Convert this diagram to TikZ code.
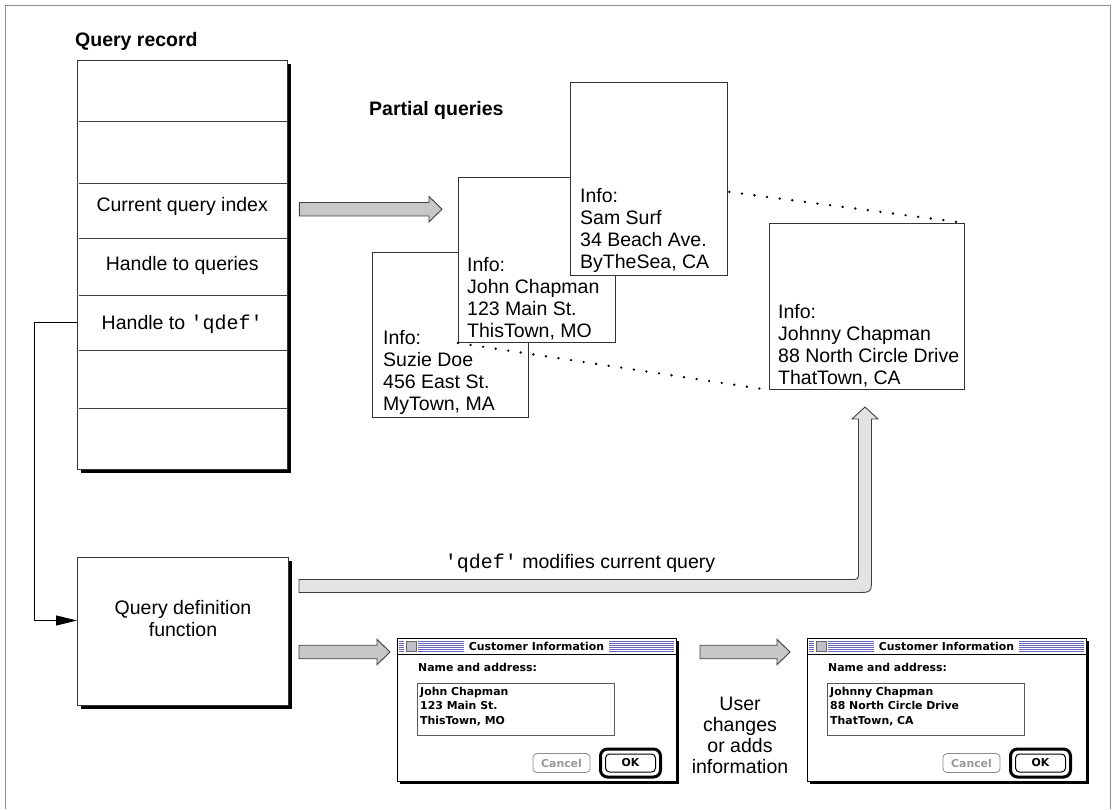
\documentclass[tikz,border=0pt]{standalone}
\usepackage{fontspec}
\setmainfont{Liberation Sans}
\setmonofont{Liberation Mono}
\newfontfamily\dlgfont{DejaVu Sans}
\usetikzlibrary{calc,shadows,arrows.meta}

\newcommand\code[1]{{\ttfamily\fontsize{20}{22}\selectfont #1}}

% horizontal block arrow: #1 start point, #2 tip, #3 style
\newcommand\blockarrow[3]{%
  \draw[#3] let \p1=(#1), \p2=(#2) in
    ({\x1},{\y2+6.75pt}) -- ({\x2-13pt},{\y2+6.75pt}) -- ({\x2-13pt},{\y2+12.75pt})
    -- ({\x2},{\y2}) -- ({\x2-13pt},{\y2-12.75pt}) -- ({\x2-13pt},{\y2-6.75pt})
    -- ({\x1},{\y2-6.75pt}) -- cycle;}

\tikzset{
  txt/.style={font=\fontsize{19.5}{22}\selectfont, inner sep=0pt},
  heading/.style={font=\fontsize{19.5}{22}\selectfont\bfseries, inner sep=0pt, anchor=west},
  rec/.style={draw=black!80, line width=1pt, fill=white,
    drop shadow={shadow xshift=3pt, shadow yshift=-3pt, fill=black, opacity=1}},
  rowcell/.style={txt, minimum width=210pt, anchor=north west},
  divider/.style={draw=black!75, line width=1pt},
  infobox/.style={draw=black!80, line width=1pt, fill=white, anchor=north west, inner sep=0pt},
  infotext/.style={txt, align=left, anchor=north west},
  dots/.style={black, line width=2.6pt, line cap=round, dash pattern=on 0pt off 12.7pt},
  midblock/.style={draw=black!75, line width=0.9pt, fill=black!22},
  lightblock/.style={draw=black!75, line width=0.9pt, fill=black!11},
  dlgframe/.style={draw=black, line width=1pt, fill=white, inner sep=0pt,
    drop shadow={shadow xshift=2pt, shadow yshift=-2pt, fill=black, opacity=1}},
  dlgtxt/.style={font=\dlgfont\bfseries\fontsize{10.9}{14.5}\selectfont, inner sep=0pt},
  stripe/.style={draw=black!45!blue!60!white, line width=0.7pt},
  dialog/.pic={
    \node[dlgframe, minimum width=279pt, minimum height=143pt, anchor=north west] (-frame) at (0,0) {};
    \draw[line width=0.9pt] (0,16) -- (279,16);
    \foreach \yy in {3.5,5.5,...,13.5} { \draw[stripe] (2,\yy) -- (277,\yy); }
    \fill[white] (7,2) rectangle (21,14);
    \draw[black!60, fill=blue!15!black!25, line width=0.8pt] (9,3) rectangle (19,13);
    \node[dlgtxt, fill=white, inner xsep=5pt, inner ysep=1pt] (-title) at (139.5,8.5) {Customer Information};
    \node[dlgtxt, anchor=west] (-label) at (21,29) {Name and address:};
    \node[draw=black!65, line width=1pt, minimum width=197pt, minimum height=52pt,
      inner sep=0pt, anchor=north west] (-field) at (20,45) {};
    \node[dlgtxt, align=left, anchor=north west] (-content) at (23,49) {#1};
    \node[draw=black!45, line width=0.8pt, rounded corners=4pt, minimum width=57pt,
      minimum height=19pt, inner sep=0pt, dlgtxt, text=black!40] (-cancel) at (164.5,125) {Cancel};
    \node[draw=black, line width=3pt, rounded corners=7pt, minimum width=60pt,
      minimum height=28pt, inner sep=0pt] (-okring) at (233.5,125) {};
    \node[draw=black, line width=1pt, rounded corners=4pt, minimum width=50pt,
      minimum height=18pt, inner sep=0pt, dlgtxt] (-ok) at (233.5,125) {OK};
  }
}

\begin{document}
\begin{tikzpicture}[x=1pt,y=-1pt]
\useasboundingbox (0,0) rectangle (1115,809);

% outer rule
\draw[black!45, line width=1pt] (5,809) -- (5,5) -- (1110,5) -- (1110,809);

% ---------- query record ----------
\node[heading] (rectitle) at (75,41) {Query record};
\node[rec, minimum width=210pt, minimum height=409pt, anchor=north west, inner sep=0pt] (qrec) at (77,60) {};
\node[rowcell, minimum height=61pt] (r1) at (77,60) {};
\node[rowcell, minimum height=62pt] (r2) at (77,121) {};
\node[rowcell, minimum height=55pt] (r3) at (77,183) {};
\node[rowcell, minimum height=57pt] (r4) at (77,238) {};
\node[rowcell, minimum height=55pt] (r5) at (77,295) {};
\node[rowcell, minimum height=58pt] (r6) at (77,350) {};
\node[rowcell, minimum height=61pt] (r7) at (77,408) {};
\node[txt] (r3text) at ([yshift=4pt]r3.center) {Current query index};
\node[txt] (r4text) at ([yshift=1pt]r4.center) {Handle to queries};
\node[txt] (r5text) at ([yshift=-1.5pt]r5.center) {Handle to \code{'qdef'}};
\foreach \r in {r1,r2,r3,r4,r5,r6}
  \draw[divider] ([xshift=2pt]\r.south west) -- (\r.south east);

% ---------- query definition function ----------
\node[rec, minimum width=211pt, minimum height=148pt, anchor=north west, inner sep=0pt] (qdef) at (77,557) {};
\node[txt, align=center] (qdeftext) at ([yshift=13pt]qdef.center) {Query definition\\function};

\draw[line width=1pt, -{Triangle[length=21pt,width=10pt]}] (r5.west) -- ++(-43,0) |- ([yshift=11pt]qdef.west);

% ---------- partial queries ----------
\node[heading] (partitle) at (369,110) {Partial queries};

\node[infobox, minimum width=156pt, minimum height=165pt] (suzie) at (372,252) {};
\node[infotext] (suzietext) at ([shift={(11pt,-78pt)}]suzie.north west) {Info:\\Suzie Doe\\456 East St.\\MyTown, MA};

\node[infobox, minimum width=157pt, minimum height=165pt] (john) at (458,177) {};
\node[infotext] (johntext) at ([shift={(9pt,-80pt)}]john.north west) {Info:\\John Chapman\\123 Main St.\\ThisTown, MO};

\node[infobox, minimum width=195pt, minimum height=166pt] (johnny) at (769,223) {};
\node[infotext] (johnnytext) at ([shift={(9pt,-81pt)}]johnny.north west) {Info:\\Johnny Chapman\\88 North Circle Drive\\ThatTown, CA};

\draw[dots] (john.north east) -- (johnny.north east);
\draw[dots] (john.south west) -- (johnny.south west);

\node[infobox, minimum width=157pt, minimum height=193pt] (sam) at (570,82) {};
\node[infotext] (samtext) at ([shift={(10pt,-106pt)}]sam.north west) {Info:\\Sam Surf\\34 Beach Ave.\\ByTheSea, CA};

% record index -> partial queries
\coordinate (aS) at ([shift={(12pt,1.5pt)}]r3.east);
\coordinate (aT) at ([xshift=-16pt]john.west |- aS);
\blockarrow{aS}{aT}{midblock}

% ---------- dialogs ----------
\pic (d1) at (397,638) {dialog={John Chapman\\123 Main St.\\ThisTown, MO}};
\pic (d2) at (807,638) {dialog={Johnny Chapman\\88 North Circle Drive\\ThatTown, CA}};

\coordinate (bT) at ([shift={(-7pt,-14pt)}]d1-frame.north west);
\coordinate (bS) at ([xshift=10pt]qdef.east |- bT);
\blockarrow{bS}{bT}{midblock}

\coordinate (cT) at ([shift={(-17pt,-14pt)}]d2-frame.north west);
\coordinate (cS) at ([xshift=23pt]d1-frame.east |- cT);
\blockarrow{cS}{cT}{midblock}

\node[txt, align=center, font=\fontsize{19.5}{21}\selectfont] (usertxt) at (740,735) {User\\changes\\or adds\\information};

% ---------- qdef modifies the current query ----------
\coordinate (dS) at ([shift={(10pt,45.5pt)}]qdef.east);
\coordinate (dT) at ([shift={(-2pt,-17pt)}]johnny.south);
\draw[lightblock] let \p1=(dS), \p2=(dT) in
  ({\x1},{\y1+6.5pt}) -- ({\x2-14.5pt},{\y1+6.5pt})
  .. controls ({\x2-6.5pt},{\y1+6.5pt}) .. ({\x2-6.5pt},{\y1+14.5pt})
  -- ({\x2-6.5pt},{\y2-12pt}) -- ({\x2-13pt},{\y2-12pt}) -- ({\x2},{\y2})
  -- ({\x2+13pt},{\y2-12pt}) -- ({\x2+6.5pt},{\y2-12pt})
  -- ({\x2+6.5pt},{\y1+8.5pt})
  .. controls ({\x2+6.5pt},{\y1-6.5pt}) .. ({\x2-8.5pt},{\y1-6.5pt})
  -- ({\x1},{\y1-6.5pt}) -- cycle;
\node[txt] (modtxt) at (580,563) {\code{'qdef'} modifies current query};

\end{tikzpicture}
\end{document}
